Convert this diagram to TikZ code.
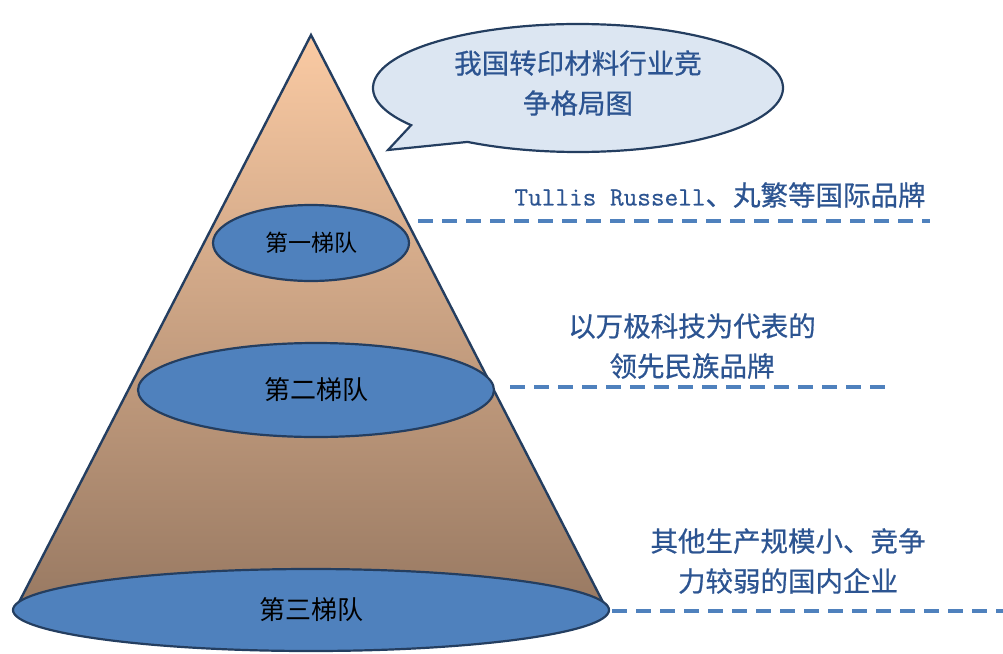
\documentclass[tikz,border=0pt]{standalone}
\usepackage{fontspec}
\newfontfamily\cjk{Noto Sans CJK SC}
\newfontfamily\cjkb[FakeBold=0.6]{Noto Sans CJK SC}
\newfontfamily\latmono[FakeBold=0.6]{Latin Modern Mono}
\usetikzlibrary{shapes.geometric}
\definecolor{navy}{RGB}{36,62,96}
\definecolor{tierfill}{RGB}{79,129,189}
\definecolor{labelblue}{RGB}{44,84,145}
\definecolor{dashblue}{RGB}{79,129,189}
\definecolor{peach}{RGB}{250,202,163}
\definecolor{brown}{RGB}{152,121,98}
\definecolor{bubblefill}{RGB}{220,230,242}
\tikzset{
  tier/.style={ellipse, draw=navy, line width=2.2pt, fill=tierfill, inner sep=0pt, text=black},
  leader/.style={draw=dashblue, line width=3.4pt, dash pattern=on 15pt off 9pt},
  lbl/.style={text=labelblue, align=center, font=\cjkb\fontsize{27.5}{40}\selectfont},
}
\begin{document}
\begin{tikzpicture}[x=1pt,y=-1pt]
\useasboundingbox (0,0) rectangle (1003,653);
% cone
\coordinate (apex) at (311,35);
\coordinate (bl) at (15,610);
\coordinate (br) at (607,610);
\shade[top color=peach, bottom color=brown] (apex) -- (br) -- (bl) -- cycle;
\draw[navy, line width=2.4pt, line join=miter] (bl) -- (apex) -- (br);
% tiers
\node[tier, minimum width=196pt, minimum height=76pt, font=\cjk\fontsize{23}{26}\selectfont] (t1) at (311,243) {第一梯队};
\node[tier, minimum width=356pt, minimum height=94pt, font=\cjk\fontsize{26}{30}\selectfont] (t2) at (316,390) {第二梯队};
\node[tier, minimum width=596pt, minimum height=82pt, font=\cjk\fontsize{26}{30}\selectfont] (t3) at (311,610) {第三梯队};
% speech bubble
\coordinate (tip) at (388,150);
\draw[navy, line width=2.2pt, fill=bubblefill, line join=miter]
  (578,88) ++(144.5:205 and 64) coordinate (ba)
  arc[start angle=144.5, end angle=482.6, x radius=205, y radius=64] coordinate (bb)
  -- (tip) -- cycle;
\node[lbl] (title) at (578,83) {我国转印材料行业竞\\争格局图};
% leaders
\coordinate (l1a) at (418,221); \coordinate (l1b) at (930,221);
\coordinate (l2a) at (510,387); \coordinate (l2b) at (888,387);
\coordinate (l3a) at (612,611); \coordinate (l3b) at (1003,611);
\draw[leader] (l1a) -- (l1b);
\draw[leader] (l2a) -- (l2b);
\draw[leader] (l3a) -- (l3b);
% labels
\node[lbl] (d1) at (720,195) {{\latmono\fontsize{26.5}{30}\selectfont Tullis Russell}、丸繁等国际品牌};
\node[lbl] (d2) at (692,346) {以万极科技为代表的\\领先民族品牌};
\node[lbl] (d3) at (788,561) {其他生产规模小、竞争\\力较弱的国内企业};
\end{tikzpicture}
\end{document}
